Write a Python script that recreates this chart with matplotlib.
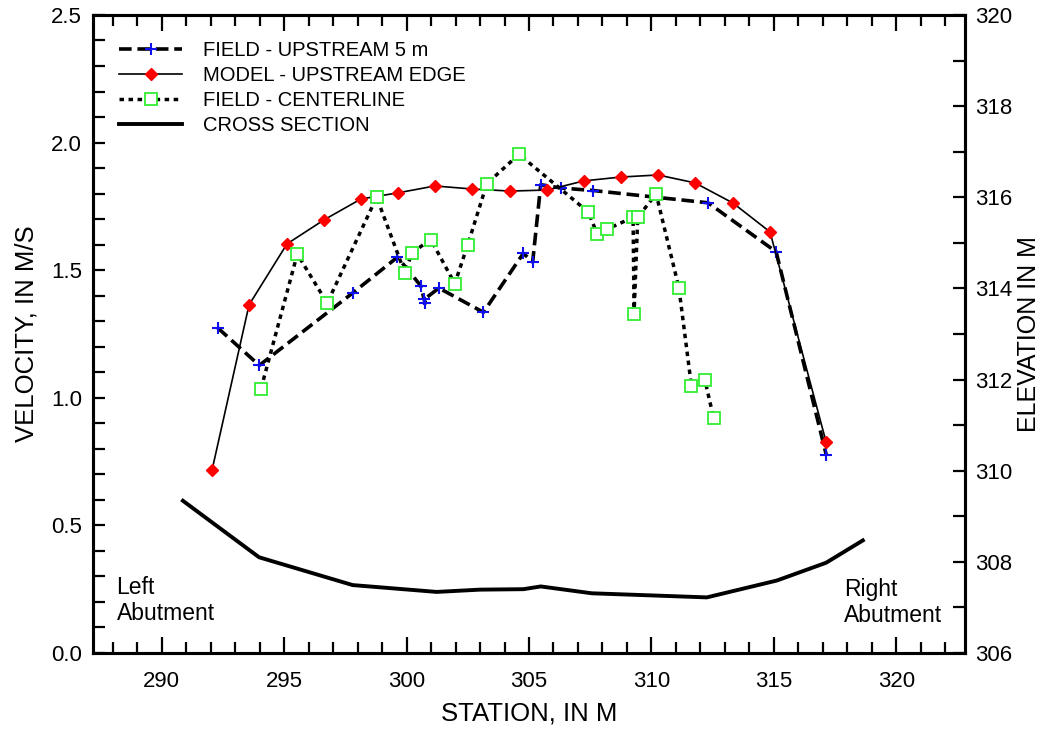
import numpy as np
import matplotlib.pyplot as plt
from matplotlib.ticker import MultipleLocator

plt.rcParams['font.family'] = ['Liberation Sans', 'DejaVu Sans']

# field - upstream 5 m
up_x = [292.29, 293.99, 297.82, 299.63, 300.58, 300.76, 300.73, 301.32, 303.14,
        304.77, 305.15, 305.48, 306.31, 307.63, 312.31, 315.09, 317.14]
up_v = [1.274, 1.127, 1.412, 1.551, 1.439, 1.370, 1.386, 1.430, 1.335,
        1.566, 1.532, 1.835, 1.822, 1.812, 1.764, 1.572, 0.775]

# model - upstream edge
mod_x = [292.06, 293.57, 295.12, 296.63, 298.14, 299.65, 301.16, 302.68, 304.23,
         305.74, 307.25, 308.76, 310.27, 311.78, 313.33, 314.84, 317.13]
mod_v = [0.717, 1.364, 1.603, 1.697, 1.779, 1.803, 1.830, 1.818, 1.810,
         1.814, 1.850, 1.865, 1.873, 1.842, 1.763, 1.650, 0.827]

# field - centerline
cl_x = [294.06, 295.54, 296.76, 298.78, 299.93, 300.23, 300.99, 301.97, 302.50,
        303.28, 304.59, 307.42, 307.78, 308.20, 309.25, 309.29, 309.44, 310.19,
        311.12, 311.63, 312.18, 312.54]
cl_v = [1.036, 1.563, 1.371, 1.786, 1.490, 1.569, 1.620, 1.447, 1.600,
        1.839, 1.954, 1.728, 1.643, 1.661, 1.707, 1.330, 1.707, 1.799,
        1.431, 1.047, 1.070, 0.920]

# cross section (elevation)
xs_x = [290.87, 293.98, 297.80, 301.23, 303.00, 304.77, 305.48, 307.56,
        312.26, 315.12, 317.13, 318.63]
xs_e = [309.34, 308.10, 307.49, 307.34, 307.39, 307.40, 307.46, 307.31,
        307.22, 307.59, 307.98, 308.47]

fig = plt.figure(figsize=(10.44, 7.30), dpi=100)
ax = fig.add_axes([0.0891, 0.1055, 0.8352, 0.874])
ax2 = ax.twinx()

l1, = ax.plot(up_x, up_v, color='black', lw=2.6, ls=(0, (3.5, 1.6)),
              marker='+', ms=9, mec='#1010ee', mew=1.5, label='FIELD - UPSTREAM 5 m')
l2, = ax.plot(mod_x, mod_v, color='black', lw=1.2, marker='D', ms=6.5,
              mfc='#ff0000', mec='#ff0000', label='MODEL - UPSTREAM EDGE')
l3, = ax.plot(cl_x, cl_v, color='black', lw=2.5, ls=(0, (1.3, 1.3)),
              marker='s', ms=8.5, mfc='white', mec='#33ee33', mew=1.3,
              label='FIELD - CENTERLINE')
l4, = ax2.plot(xs_x, xs_e, color='black', lw=2.8, label='CROSS SECTION')

ax.set_xlim(287.2, 322.8)
ax.set_ylim(0, 2.5)
ax2.set_ylim(306, 320)

ax.xaxis.set_major_locator(MultipleLocator(5))
ax.xaxis.set_minor_locator(MultipleLocator(1))
ax.yaxis.set_major_locator(MultipleLocator(0.5))
ax.yaxis.set_minor_locator(MultipleLocator(0.1))
ax2.yaxis.set_major_locator(MultipleLocator(2))
ax2.yaxis.set_minor_locator(MultipleLocator(1))

ax.yaxis.set_major_formatter(plt.FuncFormatter(lambda v, p: f'{v:.1f}'))

ax.tick_params(which='both', direction='in', top=True, bottom=True, left=True,
               right=False, labelsize=16, width=1.6)
ax.tick_params(axis='x', which='major', length=11.5, pad=13)
ax.tick_params(axis='x', which='minor', length=8)
ax.tick_params(axis='y', which='both', length=8.6, pad=8)
ax2.tick_params(which='both', direction='in', length=8.6, width=1.6,
                labelsize=16, pad=7.5)

for a in (ax, ax2):
    for s in a.spines.values():
        s.set_linewidth(2.2)

ax.set_xlabel('STATION, IN M', fontsize=18.5, labelpad=7)
ax.set_ylabel('VELOCITY, IN M/S', fontsize=18.5, labelpad=9)
ax2.set_ylabel('ELEVATION IN M', fontsize=18, labelpad=3)

ax.text(0.027, 0.121, 'Left\nAbutment', transform=ax.transAxes,
        fontsize=16.5, va='top', ha='left', linespacing=1.17)
ax.text(0.861, 0.117, 'Right\nAbutment', transform=ax.transAxes,
        fontsize=16.5, va='top', ha='left', linespacing=1.17)

ax2.legend(handles=[l1, l2, l3, l4], loc='upper left',
           bbox_to_anchor=(0.009, 0.987), frameon=False, fontsize=14.5,
           handlelength=3.15, handletextpad=1.0, labelspacing=0.29,
           numpoints=1, markerfirst=True)

fig.savefig('out.png', dpi=100)
